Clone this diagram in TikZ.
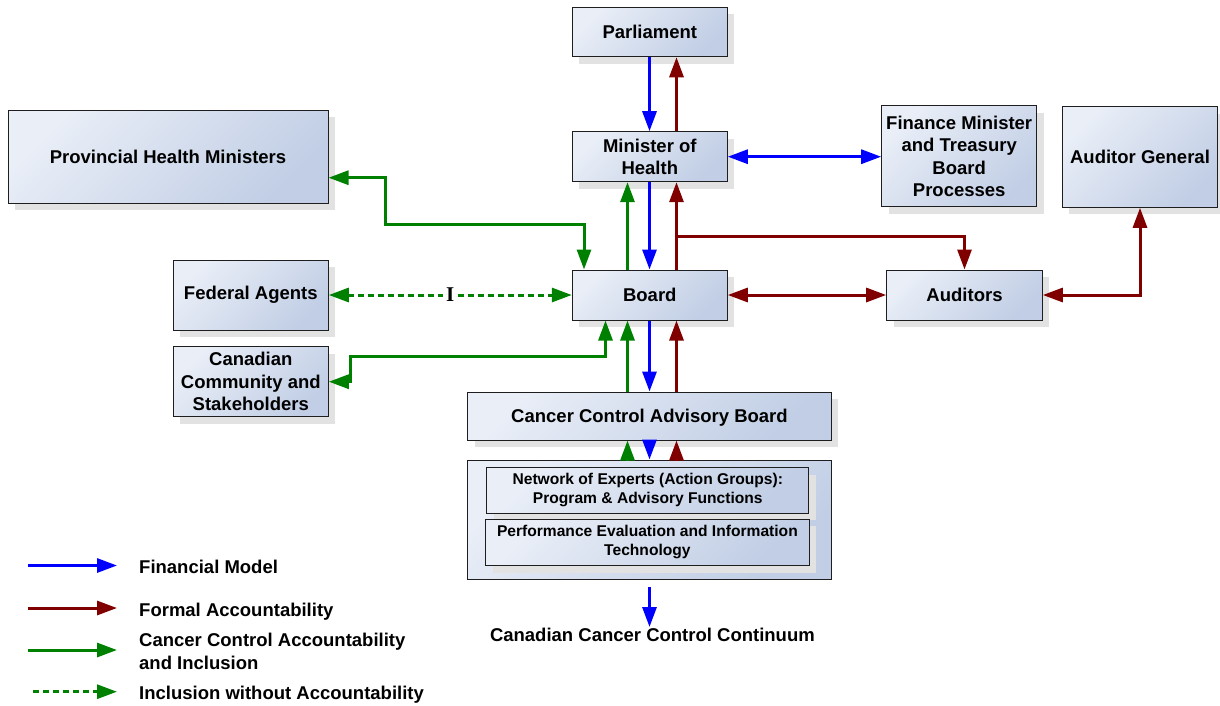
\documentclass[tikz,border=0pt]{standalone}
\usepackage{fontspec}
\setmainfont{Liberation Sans}
\newfontfamily\serifbold{Liberation Serif}
\usetikzlibrary{arrows.meta,shadows}
\definecolor{fblue}{RGB}{0,0,255}
\definecolor{fred}{RGB}{128,0,0}
\definecolor{fgreen}{RGB}{0,128,0}
\definecolor{boxtop}{RGB}{233,238,247}
\definecolor{boxbot}{RGB}{193,206,229}
\definecolor{shadowgray}{RGB}{226,226,226}
\definecolor{boxline}{RGB}{30,30,30}
\begin{document}
\begin{tikzpicture}[x=1pt,y=-1pt,
  every node/.style={inner sep=0pt, font=\bfseries\fontsize{18.5pt}{22.5pt}\selectfont, align=center},
  boxfill/.style={draw=boxline, line width=1pt, top color=boxtop, bottom color=boxbot, shading angle=45},
  box/.style={boxfill, drop shadow={shadow xshift=7pt, shadow yshift=-7pt, fill=shadowgray, opacity=1}},
  smalltext/.style={font=\bfseries\fontsize{15.6pt}{19pt}\selectfont},
  conn/.style={line width=3pt, >={Triangle[length=20pt,width=14pt]}},
  dashconn/.style={conn, dash pattern=on 6pt off 4pt},
  lab/.style={fill=white, text=black, inner xsep=3pt, inner ysep=1pt, font=\serifbold\bfseries\fontsize{21pt}{21pt}\selectfont}
]
\useasboundingbox (0,0) rectangle (1220,705);

% column coordinates
\coordinate (cg) at (627.5,0);
\coordinate (cb) at (649.5,0);
\coordinate (cr) at (676.5,0);
\coordinate (cp) at (584,0);
\coordinate (cc) at (605.5,0);

% boxes
\node[box, minimum width=155pt, minimum height=49.5pt] (parl) at (649.8,32) {Parliament};
\node[box, minimum width=155pt, minimum height=50pt] (moh) at (649.8,156.7) {Minister of\\Health};
\node[box, minimum width=155pt, minimum height=101pt] (fin) at (959.2,156.2) {Finance Minister\\and Treasury\\Board\\Processes};
\node[box, minimum width=155.4pt, minimum height=100.6pt] (ag) at (1140,157) {Auditor General};
\node[box, minimum width=320pt, minimum height=93pt] (phm) at (168,156.7) {Provincial Health Ministers};
\node[box, minimum width=155pt, minimum height=70pt] (fed) at (250.8,295) {Federal Agents};
\node[box, minimum width=155pt, minimum height=70pt] (ccs) at (250.8,381.7) {Canadian\\Community and\\Stakeholders};
\node[box, minimum width=155pt, minimum height=50pt] (board) at (649.8,295) {Board};
\node[box, minimum width=155.6pt, minimum height=50pt] (aud) at (964.5,295) {Auditors};
\node[box, minimum width=363.5pt, minimum height=48pt, text depth=0pt] (ccab) at (649.5,416) {Cancer Control Advisory Board};
\node[boxfill, minimum width=363.5pt, minimum height=119pt] (cont) at (649.5,519.5) {};
\node[box, smalltext, minimum width=322.3pt, minimum height=45.3pt] (net) at (647.8,490.4) {Network of Experts (Action Groups):\\Program \& Advisory Functions};
\node[box, smalltext, minimum width=323.3pt, minimum height=46.7pt] (perf) at (647.4,542.4) {Performance Evaluation and Information\\Technology};
\node (cccc) at (652.4,635) {Canadian Cancer Control Continuum};

% Parliament <-> Minister
\draw[conn, fblue, ->] (parl.south -| cb) -- (moh.north -| cb);
\draw[conn, fred, ->] (moh.north -| cr) -- (parl.south -| cr);
% Minister <-> Finance
\draw[conn, fblue, <->] (moh.east) -- (moh.east -| fin.west);
% Board <-> Minister
\draw[conn, fgreen, ->] (board.north -| cg) -- (moh.south -| cg);
\draw[conn, fblue, ->] (moh.south -| cb) -- (board.north -| cb);
\draw[conn, fred, ->] (board.north -| cr) -- (moh.south -| cr);
\coordinate (rj) at (676.5,236.7);
\draw[conn, fred, ->] (rj) -| (aud.north);
% Provincial
\draw[conn, fgreen, <->] ([yshift=-21pt]phm.east) -- ++(57,0) -- ++(0,47) -| (board.north -| cp);
% Federal
\draw[dashconn, fgreen, <->] (fed.east) -- node[lab]{I} (fed.east -| board.west);
% Community
\draw[conn, fgreen, <->] (ccs.east) -- ++(22,0) -- ++(0,-25.7) -| (board.south -| cc);
% Board <-> Auditors
\draw[conn, fred, <->] (board.east) -- (aud.west);
\draw[conn, fred, <->] (aud.east) -| (ag.south);
% Board <-> CCAB
\draw[conn, fgreen, ->] (ccab.north -| cg) -- (board.south -| cg);
\draw[conn, fblue, ->] (board.south -| cb) -- (ccab.north -| cb);
\draw[conn, fred, ->] (ccab.north -| cr) -- (board.south -| cr);
% CCAB <-> container
\draw[conn, fgreen, ->] (cont.north -| cg) -- (ccab.south -| cg);
\draw[conn, fblue, ->] (ccab.south -| cb) -- (cont.north -| cb);
\draw[conn, fred, ->] (cont.north -| cr) -- (ccab.south -| cr);
% container -> continuum
\coordinate (contout) at (649.5,587);
\draw[conn, fblue, ->] (contout) -- ([yshift=1pt]cccc.north -| cb);

% legend
\node[anchor=west, align=left] (t1) at (139,567) {Financial Model};
\node[anchor=west, align=left, text depth=0pt] (t2) at (139,609.5) {Formal Accountability};
\node[anchor=west, align=left] (t3) at (139,651.3) {Cancer Control Accountability\\and Inclusion};
\node[anchor=west, align=left, text depth=0pt] (t4) at (139,693) {Inclusion without Accountability};
\coordinate (l1a) at (28,565.5); \coordinate (l1b) at (117,565.5);
\coordinate (l2a) at (28,608);   \coordinate (l2b) at (117,608);
\coordinate (l3a) at (28,650);   \coordinate (l3b) at (117,650);
\coordinate (l4a) at (33,691.7); \coordinate (l4b) at (117,691.7);
\draw[conn, fblue, ->] (l1a) -- (l1b);
\draw[conn, fred, ->] (l2a) -- (l2b);
\draw[conn, fgreen, ->] (l3a) -- (l3b);
\draw[dashconn, fgreen, ->] (l4a) -- (l4b);
\end{tikzpicture}
\end{document}
